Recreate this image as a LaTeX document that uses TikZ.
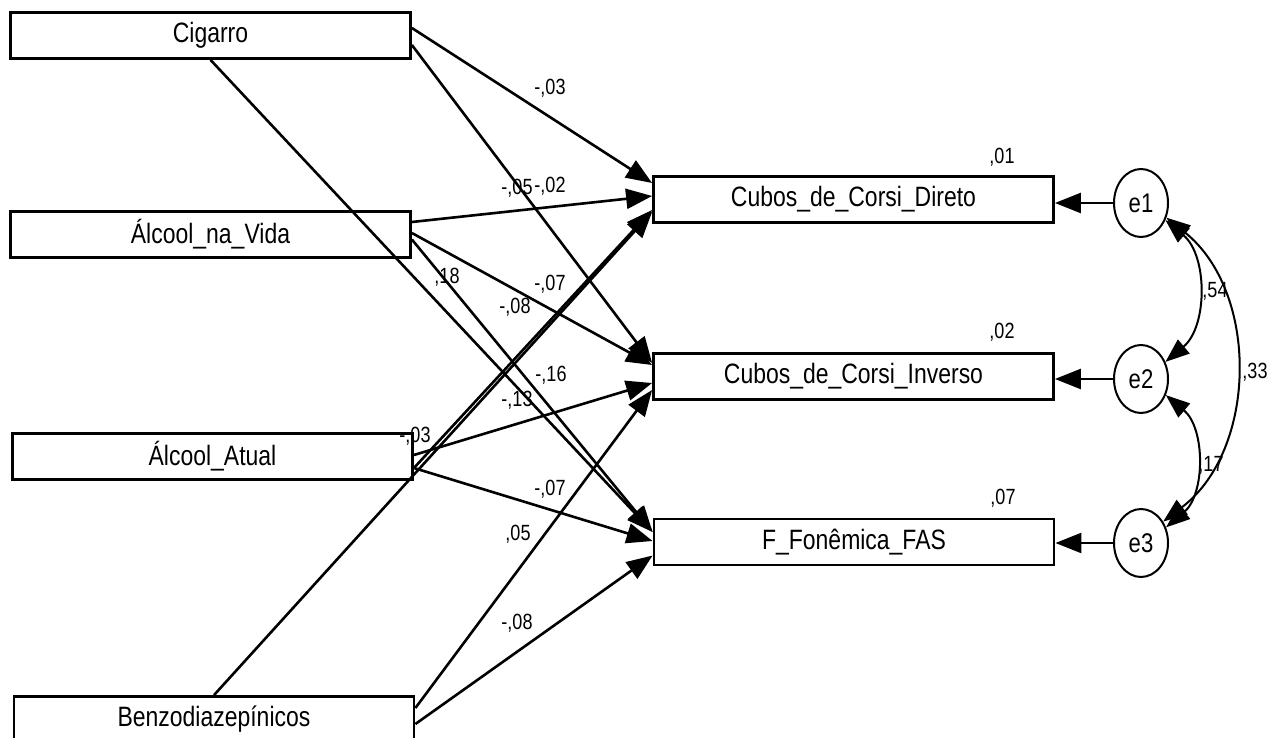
\documentclass[tikz,border=0pt]{standalone}
\usepackage{fontspec}
\setmainfont{Liberation Sans}[FakeStretch=0.82]
\usetikzlibrary{arrows.meta, calc, shapes.geometric}
\tikzset{
  block/.style = {rectangle, draw, line width=1.4pt, minimum width=200pt, minimum height=23pt, inner sep=0pt, font=\fontsize{14}{16}\selectfont},
  err/.style = {ellipse, draw, line width=1pt, minimum width=27pt, minimum height=34pt, inner sep=0pt, font=\fontsize{13.5}{15}\selectfont},
  arrow/.style = {-{Triangle[length=13pt,width=10pt]}, line width=1.3pt},
  covar/.style = {{Triangle[length=12pt,width=9pt]}-{Triangle[length=12pt,width=9pt]}, line width=1pt},
  coef/.style = {inner sep=0pt, font=\fontsize{11}{12}\selectfont},
}

\begin{document}
\begin{tikzpicture}[x=0.5pt, y=-0.5pt]

    \useasboundingbox (0,0) rectangle (1269,738);

    % Predictors
    \node (cig) [block] at (210.5,35.5) {Cigarro};
    \node (vida) [block] at (210.5,234.5) {Álcool\_na\_Vida};
    \node (atual) [block] at (212.5,456.5) {Álcool\_Atual};
    \node (benz) [block] at (214,719.5) {Benzodiazepínicos};

    % Outcomes
    \node (dir) [block] at (853.5,199.5) {Cubos\_de\_Corsi\_Direto};
    \node (inv) [block] at (853.5,376.5) {Cubos\_de\_Corsi\_Inverso};
    \node (fas) [block] at (854,542) {F\_Fonêmica\_FAS};

    % Residuals
    \node (e1) [err] at (1141,203) {e1};
    \node (e2) [err] at (1141,379) {e2};
    \node (e3) [err] at (1141,543) {e3};

    % Paths
    \draw [arrow] ($(cig.east)+(0,-7.5)$) -- ($(dir.west)+(0,-16.5)$);
    \draw [arrow] ($(cig.east)+(0,9.5)$) -- ($(inv.west)+(0,-13.5)$);
    \draw [arrow] (cig.south) -- ($(fas.west)+(0,-10)$);

    \draw [arrow] ($(vida.east)+(0,-12.5)$) -- ($(dir.west)+(0,-3.5)$);
    \draw [arrow] ($(vida.east)+(0,-1.5)$) -- ($(inv.west)+(0,-11.5)$);
    \draw [arrow] ($(vida.east)+(0,5)$) -- ($(fas.west)+(0,-10)$);

    \draw [arrow] ($(atual.east)+(0,11.5)$) -- ($(dir.west)+(0,10.5)$);
    \draw [arrow] ($(atual.east)+(0,-1.5)$) -- ($(inv.west)+(0,6.5)$);
    \draw [arrow] ($(atual.east)+(0,11.5)$) -- ($(fas.west)+(0,-1)$);

    \draw [arrow] (benz.north) -- ($(dir.west)+(0,12.5)$);
    \draw [arrow] ($(benz.east)+(0,-11.5)$) -- ($(inv.west)+(0,13.5)$);
    \draw [arrow] ($(benz.east)+(0,4.5)$) -- ($(fas.west)+(0,13.5)$);

    \draw [arrow] (e1.west) -- (e1.west -| dir.east);
    \draw [arrow] (e2.west) -- (e2.west -| inv.east);
    \draw [arrow] (e3.west) -- (e3.west -| fas.east);

    % Covariances
    \draw [covar] (e1.-35) to[bend left=50] (e2.35);
    \draw [covar] (e2.-33) to[bend left=50] (e3.32);
    \draw [covar] (e1.-30) to[bend left=52] (e3.44);

    % Estimates
    \foreach \n/\x/\y/\t in {a/550/88/{-,03}, b/517/188/{-,05}, c/550/186/{-,02},
        d/447/277/{,18}, e/550/284/{-,07}, f/515/307/{-,08}, g/551/375/{-,16},
        h/517/400/{-,13}, i/415/436/{-,03}, j/550/489/{-,07}, k/518/534/{,05},
        l/517/623/{-,08}, m/1002/157/{,01}, o/1002/332/{,02}, p/1003/498/{,07},
        q/1215/291/{,54}, r/1255/372/{,33}, s/1211/465/{,17}}
      \node (est\n) [coef] at (\x,\y) {\t};

\end{tikzpicture}
\end{document}
